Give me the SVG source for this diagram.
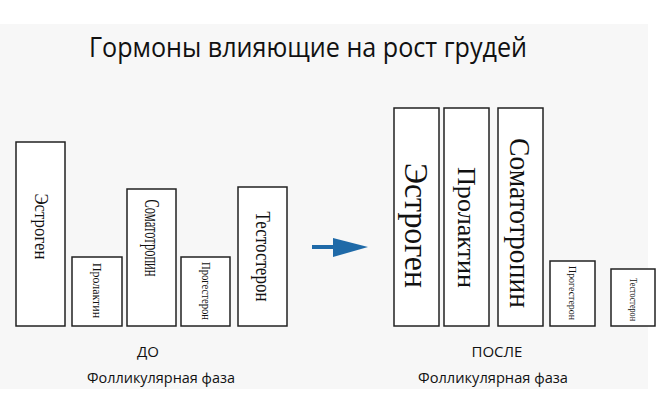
<svg xmlns="http://www.w3.org/2000/svg" width="659" height="416" viewBox="0 0 659 416">
<style>
.bar{fill:#ffffff;stroke:#222222;stroke-width:1.5}
.lbl{font-family:"Liberation Serif","Times New Roman",serif;fill:#111111;text-anchor:middle;dominant-baseline:central}
.cap{font-family:"Open Sans","Noto Sans","Liberation Sans",sans-serif;fill:#111111;text-anchor:middle}
</style>
<rect x="0" y="0" width="659" height="416" fill="#ffffff"/>
<rect x="0" y="24" width="648" height="365" fill="#f7f7f7"/>
<text class="cap" x="308" y="57" font-size="28" textLength="438" lengthAdjust="spacingAndGlyphs">Гормоны влияющие на рост грудей</text>
<g id="before">
<g id="b-estrogen"><rect class="bar" x="16" y="142" width="49" height="184"/><text class="lbl" transform="translate(41,226.5) rotate(90)" font-size="18.5" textLength="66" lengthAdjust="spacingAndGlyphs">Эстроген</text></g>
<g id="b-prolactin"><rect class="bar" x="72" y="257" width="50" height="69"/><text class="lbl" transform="translate(97,290.5) rotate(90)" font-size="11.5" textLength="55" lengthAdjust="spacingAndGlyphs">Пролактин</text></g>
<g id="b-somatotropin"><rect class="bar" x="127" y="189" width="49" height="137"/><text class="lbl" transform="translate(151.5,238) rotate(90)" font-size="21" textLength="77" lengthAdjust="spacingAndGlyphs">Соматотропин</text></g>
<g id="b-progesteron"><rect class="bar" x="181" y="257" width="49" height="69"/><text class="lbl" transform="translate(205.5,291) rotate(90)" font-size="12" textLength="58" lengthAdjust="spacingAndGlyphs">Прогестерон</text></g>
<g id="b-testosteron"><rect class="bar" x="238" y="187" width="49" height="139"/><text class="lbl" transform="translate(262.5,256.5) rotate(90)" font-size="20" textLength="90" lengthAdjust="spacingAndGlyphs">Тестостерон</text></g>
</g>
<g id="after">
<g id="a-estrogen"><rect class="bar" x="394" y="108" width="45" height="218"/><text class="lbl" transform="translate(416.5,225.5) rotate(90)" font-size="34" textLength="125" lengthAdjust="spacingAndGlyphs">Эстроген</text></g>
<g id="a-prolactin"><rect class="bar" x="444" y="108" width="45" height="218"/><text class="lbl" transform="translate(466.5,227.5) rotate(90)" font-size="25" textLength="121" lengthAdjust="spacingAndGlyphs">Пролактин</text></g>
<g id="a-somatotropin"><rect class="bar" x="498" y="108" width="45" height="218"/><text class="lbl" transform="translate(520.5,223) rotate(90)" font-size="30" textLength="170" lengthAdjust="spacingAndGlyphs">Соматотропин</text></g>
<g id="a-progesteron"><rect class="bar" x="550" y="261" width="45" height="65"/><text class="lbl" transform="translate(572.5,293) rotate(90)" font-size="10" textLength="54" lengthAdjust="spacingAndGlyphs">Прогестерон</text></g>
<g id="a-testosteron"><rect class="bar" x="611" y="269" width="44" height="57"/><text class="lbl" transform="translate(633,299.5) rotate(90)" font-size="9.5" textLength="43" lengthAdjust="spacingAndGlyphs">Тестостерон</text></g>
</g>
<g id="connectors">
<line x1="312" y1="247" x2="336" y2="247" stroke="#1f6aa8" stroke-width="4"/>
<polygon points="333,238 368,247 333,257" fill="#1f6aa8"/>
</g>
<text class="cap" x="148" y="357" font-size="15">ДО</text>
<text class="cap" x="497" y="357" font-size="15">ПОСЛЕ</text>
<text class="cap" x="161" y="383" font-size="15" textLength="148" lengthAdjust="spacingAndGlyphs">Фолликулярная фаза</text>
<text class="cap" x="493" y="383" font-size="15" textLength="150" lengthAdjust="spacingAndGlyphs">Фолликулярная фаза</text>
</svg>
